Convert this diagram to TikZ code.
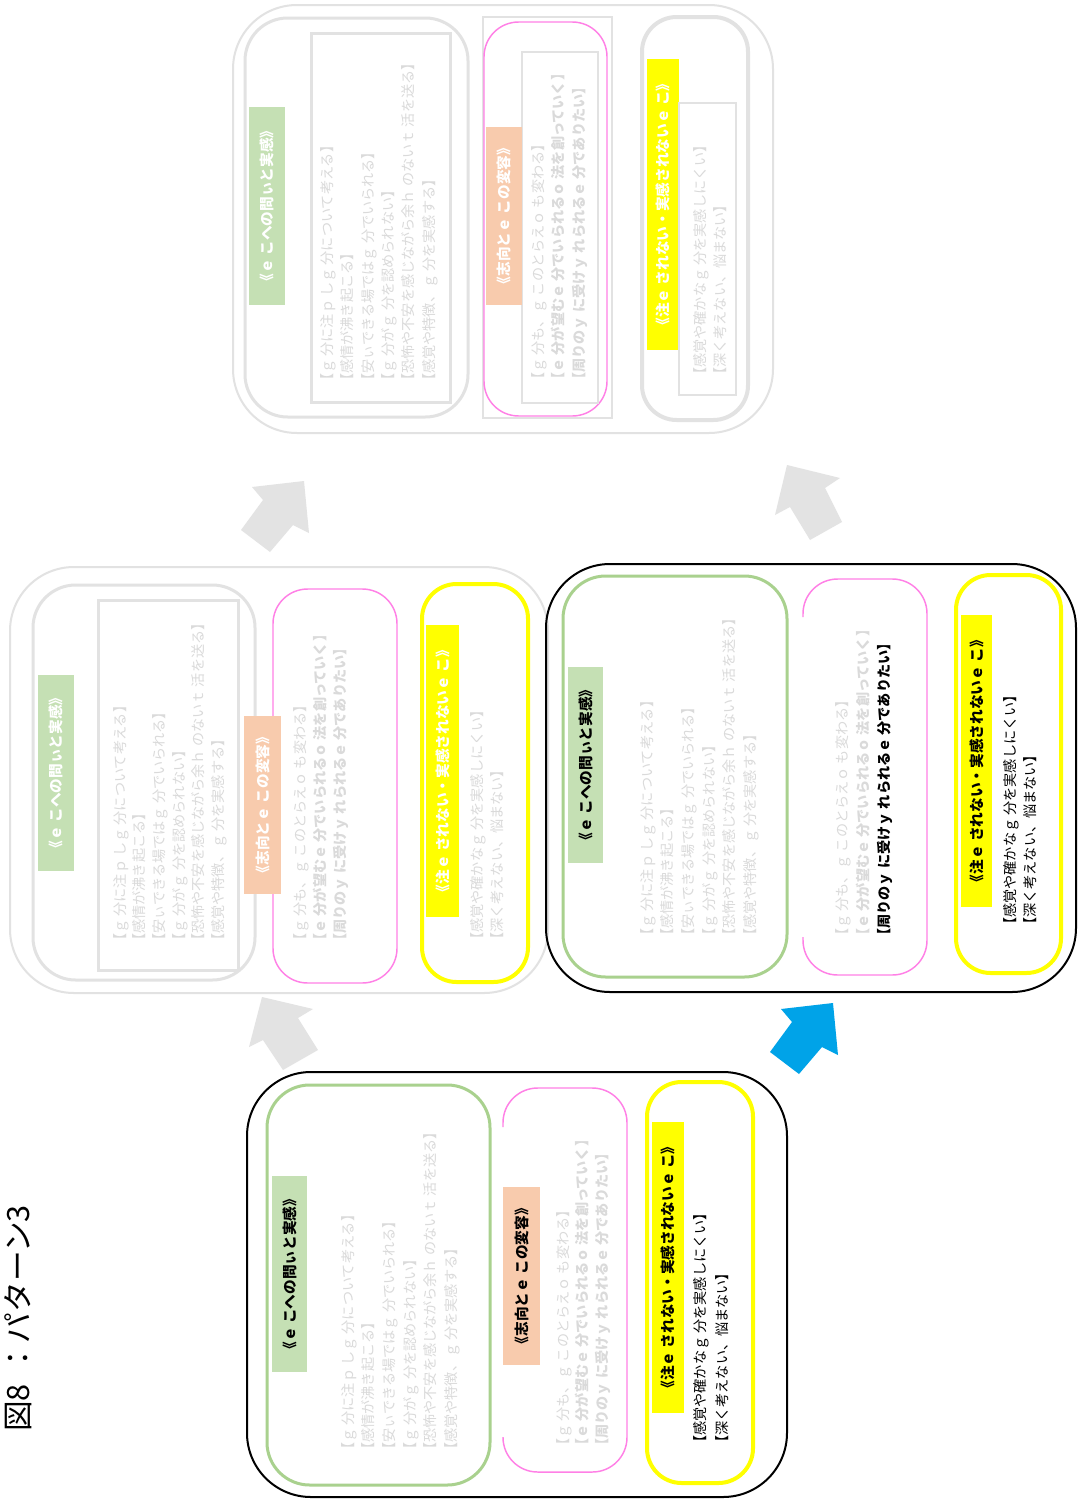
\documentclass[tikz,border=0pt]{standalone}
\usepackage{fontspec}
\setmainfont{Noto Sans CJK JP}
\definecolor{fadeline}{HTML}{E2E2E2}
\definecolor{fadetext}{HTML}{DADADA}
\definecolor{grnline}{HTML}{A9D18E}
\definecolor{grnfill}{HTML}{C5E0B4}
\definecolor{orgfill}{HTML}{F8CBAD}
\definecolor{pnkline}{HTML}{FF80E6}
\definecolor{ylwline}{HTML}{FFFF00}
\definecolor{arrgrey}{HTML}{E3E3E3}
\definecolor{arrblue}{HTML}{00A3E8}

% texts of the three boxes
\newcommand\hdGreen{《ｅ こへの問ぃと実感》}
\newcommand\hdOrange{《志向とｅ この変容》}
\newcommand\hdYellow{《注ｅ されない・実感されないｅ こ》}
\newcommand\lnGreen{【ｇ 分に注ｐ しｇ 分について考える】\\【感情が沸き起こる】\\【安ぃできる場ではｇ 分でいられる】\\【ｇ 分がｇ 分を認められない】\\【恐怖や不安を感じながら余ｈ のないｔ 活を送る】\\【感覚や特徴、ｇ 分を実感する】}
\newcommand\lnPinkOne{【ｇ 分も、ｇ このとらえｏ も変わる】}
\newcommand\lnPinkTwo{【ｅ 分が望むｅ 分でいられるｏ 法を創っていく】}
\newcommand\lnPinkThree{【周りのｙ に受けｙ れられるｅ 分でありたい】}
\newcommand\lnYellow{【感覚や確かなｇ 分を実感しにくい】\\【深く考えない、悩まない】}

\tikzset{
  panelon/.style={draw=black, line width=1.5pt, rounded corners=48pt},
  paneloff/.style={draw=fadeline, line width=1.5pt, rounded corners=48pt},
  grnbox/.style={draw=grnline, line width=2.25pt, rounded corners=32pt},
  greybox/.style={draw=fadeline, line width=2.25pt, rounded corners=32pt},
  greyrect/.style={draw=fadeline, line width=2.25pt},
  thinrect/.style={draw=fadeline, line width=0.8pt},
  pnkbox/.style={draw=pnkline, line width=1.1pt, rounded corners=26pt},
  ylwbox/.style={draw=ylwline, line width=3pt, rounded corners=26pt},
  ylwgrey/.style={draw=fadeline, line width=3pt, rounded corners=26pt},
  bodytxt/.style={rotate=90, anchor=north west, inner sep=0pt, align=left,
    font=\fontsize{10.6}{15.5}\selectfont},
  headtxt/.style={rotate=90, inner sep=0pt, font=\fontsize{11}{13}\selectfont\bfseries},
  blockarrow/.style={fill=arrgrey, draw=none},
}

\begin{document}
\begin{tikzpicture}[x=0.75pt, y=-0.75pt]
\useasboundingbox[fill=white] (0,0) rectangle (1078,1499);

% title
\node[rotate=90, anchor=west, inner sep=0pt, font=\fontsize{23}{26}\selectfont] (title) at (18,1432) {図8\,\,：パターン3};

% ---------- panel D (top, faded) ----------
\draw[paneloff] (233,5) rectangle (773,433);
\draw[greybox] (245,18) rectangle (468,417);
\draw[greyrect] (311,33) rectangle (450,402);
\fill[grnfill] (249,107) rectangle (285,305);
\node[headtxt, text=white] (dGh) at (267,206) {\hdGreen};
\node[bodytxt, text=fadetext, font=\fontsize{10.6}{15.3}\selectfont] (dGt) at (320,388) {\lnGreen};
\draw[thinrect] (483,17) rectangle (612,418);
\draw[pnkbox] (484,22) rectangle (607,416);
\draw[thinrect] (522,52) rectangle (598,403);
\fill[orgfill] (486,127) rectangle (522,305);
\node[headtxt, text=white] (dOh) at (504,216) {\hdOrange};
\node[bodytxt, text=fadetext, font=\fontsize{10.6}{15.5}\selectfont] (dPt) at (531,387)
  {\lnPinkOne\\\textbf{\lnPinkTwo}\\\textbf{\lnPinkThree}};
\draw[ylwgrey] (642,17) rectangle (748,420);
\fill[ylwline] (647,59) rectangle (679,350);
\draw[thinrect] (679,103) rectangle (736,395);
\node[headtxt, text=white] (dYh) at (663,204.5) {\hdYellow};
\node[bodytxt, text=fadetext, font=\fontsize{10.6}{15}\selectfont] (dYt) at (693,382) {\lnYellow};

% ---------- panel C (middle left, faded) ----------
\draw[paneloff] (10,567) rectangle (548,993);
\draw[greybox] (33,585) rectangle (255,980);
\draw[greyrect] (98,600) rectangle (238,970);
\fill[grnfill] (38,675) rectangle (74,871);
\node[headtxt, text=white] (cGh) at (56,773) {\hdGreen};
\node[bodytxt, text=fadetext, font=\fontsize{10.6}{14.7}\selectfont] (cGt) at (113,948) {\lnGreen};
\draw[pnkbox] (273,589) rectangle (397,983);
\fill[orgfill] (244,716) rectangle (281,894);
\node[headtxt, text=white] (cOh) at (262.5,805) {\hdOrange};
\node[bodytxt, text=fadetext, font=\fontsize{10.6}{15}\selectfont] (cPt) at (293,948)
  {\lnPinkOne\\\textbf{\lnPinkTwo}\\\textbf{\lnPinkThree}};
\draw[ylwbox] (422,584) rectangle (528,982);
\fill[ylwline] (426,625) rectangle (459,917);
\node[headtxt, text=white] (cYh) at (442.5,771) {\hdYellow};
\node[bodytxt, text=fadetext, font=\fontsize{10.6}{15.5}\selectfont] (cYt) at (470,947) {\lnYellow};

% ---------- panel B (middle right, current) ----------
\draw[panelon] (546,564) rectangle (1076,992);
\draw[grnbox] (563,576) rectangle (787,977);
\fill[grnfill] (568,667) rectangle (603,863);
\node[headtxt, text=black] (bGh) at (585.5,765) {\hdGreen};
\node[bodytxt, text=fadetext] (bGt) at (640,943) {\lnGreen};
\draw[pnkbox] (803,937) -- (803,975) -- (927,975) -- (927,579) -- (803,579) -- (803,617);
\node[bodytxt, text=fadetext, font=\fontsize{10.6}{16}\selectfont] (bPt) at (835,943)
  {\lnPinkOne\\\textbf{\lnPinkTwo}\\\textcolor{black}{\textbf{\lnPinkThree}}};
\draw[ylwbox] (956,575) rectangle (1061,973);
\fill[ylwline] (961,615) rectangle (992,907);
\node[headtxt, text=black] (bYh) at (976.5,761) {\hdYellow};
\node[bodytxt, text=black, font=\fontsize{10.6}{15.5}\selectfont] (bYt) at (1003,932) {\lnYellow};

% ---------- panel A (bottom, start) ----------
\draw[panelon] (247,1072) rectangle (787,1497);
\draw[grnbox] (267,1085) rectangle (490,1485);
\fill[grnfill] (272,1176) rectangle (307,1372);
\node[headtxt, text=black] (aGh) at (289.5,1274) {\hdGreen};
\node[bodytxt, text=fadetext] (aGt) at (341,1457) {\lnGreen};
\draw[pnkbox] (503,1437) -- (503,1472) -- (627,1472) -- (627,1088) -- (503,1088) -- (503,1127);
\fill[orgfill] (503,1187) rectangle (540,1365);
\node[headtxt, text=black] (aOh) at (521.5,1276) {\hdOrange};
\node[bodytxt, text=fadetext, font=\fontsize{10.6}{14.8}\selectfont] (aPt) at (556,1453)
  {\lnPinkOne\\\textbf{\lnPinkTwo}\\\textbf{\lnPinkThree}};
\draw[ylwbox] (647,1082) rectangle (753,1483);
\fill[ylwline] (652,1122) rectangle (684,1413);
\node[headtxt, text=black] (aYh) at (668,1267.5) {\hdYellow};
\node[bodytxt, text=black, font=\fontsize{10.6}{17}\selectfont] (aYt) at (693,1450) {\lnYellow};

% ---------- block arrows between the stages ----------
\fill[blockarrow] (304,481) -- (309,533) -- (293,525) -- (270,552) -- (241,530) -- (263,500) -- (252,487) -- cycle;
\fill[blockarrow] (787,465) -- (840,478) -- (825,488) -- (842,522) -- (810,540) -- (790,507) -- (775,515) -- cycle;
\fill[blockarrow] (262,997) -- (313,1009) -- (298,1018) -- (318,1050) -- (283,1070) -- (263,1040) -- (249,1047) -- cycle;
\fill[blockarrow, fill=arrblue] (833,1003) -- (838,1055) -- (822,1047) -- (799,1074) -- (770,1052) -- (792,1022) -- (781,1009) -- cycle;
\end{tikzpicture}
\end{document}
